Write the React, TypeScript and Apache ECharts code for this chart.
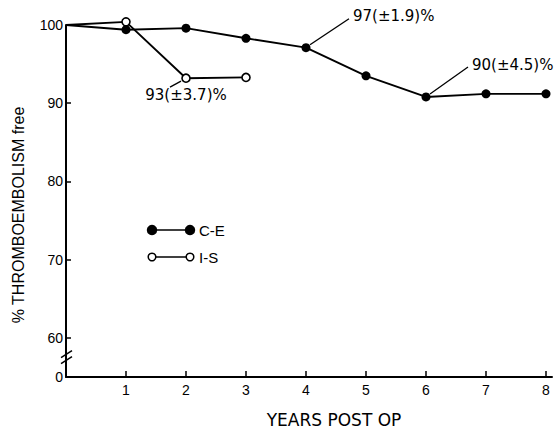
import React, { useEffect, useRef } from "react";
import * as echarts from "echarts";

// ---- data ----
const ceYears = [0, 1, 2, 3, 4, 5, 6, 7, 8];
const ceValues = [100, 99.4, 99.6, 98.3, 97.1, 93.5, 90.8, 91.2, 91.2];
const isYears = [0, 1, 2, 3];
const isValues = [100, 100.4, 93.2, 93.3];
const xTicks = [1, 2, 3, 4, 5, 6, 7, 8];
const yTicks = [60, 70, 80, 90, 100];
const yBroken = 55; // bottom of the broken axis, labelled "0"
const yLabelValues = [55, 60, 70, 80, 90, 100];
const annotations = [
  { series: 1, year: 2, value: 93.2, text: "93(±3.7)%" },
  { series: 0, year: 4, value: 97.1, text: "97(±1.9)%" },
  { series: 0, year: 6, value: 90.8, text: "90(±4.5)%" },
];
const legendNames = ["C-E", "I-S"];

// label layout styles (offsets relative to the annotated point)
const annotStyle = [
  { l1: [-5, 3], l2: [-16, 9], tx: 0, ty: 17, align: "center" },
  { l1: [4, -3], l2: [43, -29], tx: 47, ty: -32, align: "left" },
  { l1: [4, -3], l2: [42, -30], tx: 46, ty: -32, align: "left" },
];

export default function App() {
  const ref = useRef<HTMLDivElement>(null);
  useEffect(() => {
    if (!ref.current) return;
    const chart = echarts.init(ref.current, undefined, { renderer: "svg" });
    const tickFont = { color: "#000", fontSize: 14, fontFamily: "Liberation Sans" };
    const option: any = {
      animation: false,
      backgroundColor: "#fff",
      grid: { left: 66, right: 5, top: 25, bottom: 55, containLabel: false },
      xAxis: {
        type: "value",
        min: 0,
        max: 8.1,
        name: "YEARS POST OP",
        nameLocation: "middle",
        nameGap: 34,
        nameTextStyle: {
          color: "#000",
          fontSize: 17,
          fontFamily: "DejaVu Sans",
          padding: [0, 0, 0, 50],
        },
        axisLine: { show: true, lineStyle: { color: "#000", width: 2 } },
        axisTick: { show: true, inside: true, length: 6, customValues: xTicks, lineStyle: { color: "#000", width: 1.5 } },
        axisLabel: { customValues: xTicks, margin: 6, ...tickFont },
        splitLine: { show: false },
      },
      yAxis: {
        type: "value",
        min: yBroken,
        max: 100,
        name: "% THROMBOEMBOLISM free",
        nameLocation: "middle",
        nameRotate: 90,
        nameGap: 40,
        nameTextStyle: {
          color: "#000",
          fontSize: 16,
          fontFamily: "Liberation Sans",
          padding: [0, 28, 0, 0],
        },
        axisLine: { show: true, lineStyle: { color: "#000", width: 2 } },
        axisTick: { show: true, inside: true, length: 5, customValues: yTicks, lineStyle: { color: "#000", width: 1.5 } },
        axisLabel: {
          customValues: yLabelValues,
          margin: 3,
          formatter: (v: number) => (v === yBroken ? "0" : String(v)),
          ...tickFont,
        },
        splitLine: { show: false },
      },
      series: [
        {
          name: legendNames[0],
          type: "line",
          clip: false,
          z: 3,
          symbol: "circle",
          symbolSize: 9,
          data: ceYears.map((x, i) => ({ value: [x, ceValues[i]], symbol: i === 0 ? "none" : "circle" })),
          lineStyle: { color: "#000", width: 1.9 },
          itemStyle: { color: "#000" },
        },
        {
          name: legendNames[1],
          type: "line",
          clip: false,
          z: 4,
          symbol: "circle",
          symbolSize: 8,
          data: isYears.map((x, i) => ({ value: [x, isValues[i]], symbol: i === 0 ? "none" : "circle" })),
          lineStyle: { color: "#000", width: 1.9 },
          itemStyle: { color: "#fff", borderColor: "#000", borderWidth: 1.6 },
        },
      ],
    };
    chart.setOption(option);

    const graphics: any[] = [];
    // annotations with leader lines
    annotations.forEach((a, i) => {
      const p = chart.convertToPixel({ gridIndex: 0 }, [a.year, a.value]) as number[];
      const s = annotStyle[i];
      graphics.push({
        type: "line",
        shape: { x1: p[0] + s.l1[0], y1: p[1] + s.l1[1], x2: p[0] + s.l2[0], y2: p[1] + s.l2[1] },
        style: { stroke: "#000", lineWidth: 1.3 },
        z: 10,
      });
      graphics.push({
        type: "text",
        x: p[0] + s.tx,
        y: p[1] + s.ty,
        style: {
          text: a.text,
          fill: "#000",
          fontSize: 15,
          fontFamily: "DejaVu Sans",
          align: s.align,
          verticalAlign: "middle",
        },
        z: 10,
      });
    });
    // axis break marks
    const ax = chart.convertToPixel({ xAxisIndex: 0 }, 0) as number;
    const by = chart.convertToPixel({ yAxisIndex: 0 }, 57.6) as number;
    [-3, 3].forEach((d) => {
      graphics.push({
        type: "line",
        shape: { x1: ax - 5, y1: by + d + 4, x2: ax + 6, y2: by + d - 3 },
        style: { stroke: "#000", lineWidth: 1.5 },
        z: 10,
      });
    });
    // legend
    const legY = [230, 257];
    legendNames.forEach((n, i) => {
      const y = legY[i];
      const filled = i === 0;
      graphics.push({
        type: "line",
        shape: { x1: 152, y1: y, x2: 190, y2: y },
        style: { stroke: "#000", lineWidth: 1.5 },
        z: 10,
      });
      [152, 190].forEach((cx) => {
        graphics.push({
          type: "circle",
          shape: { cx, cy: y, r: filled ? 4.5 : 3.8 },
          style: { fill: filled ? "#000" : "#fff", stroke: "#000", lineWidth: 1.5 },
          z: 11,
        });
      });
      graphics.push({
        type: "text",
        x: 199,
        y,
        style: { text: n, fill: "#000", fontSize: 15, fontFamily: "Liberation Sans", verticalAlign: "middle" },
        z: 10,
      });
    });
    chart.setOption({ graphic: graphics });

    return () => chart.dispose();
  }, []);
  return (
    <div
      ref={ref}
      style={{ position: "fixed", left: 0, top: 0, width: 557, height: 433, background: "#fff" }}
    />
  );
}
